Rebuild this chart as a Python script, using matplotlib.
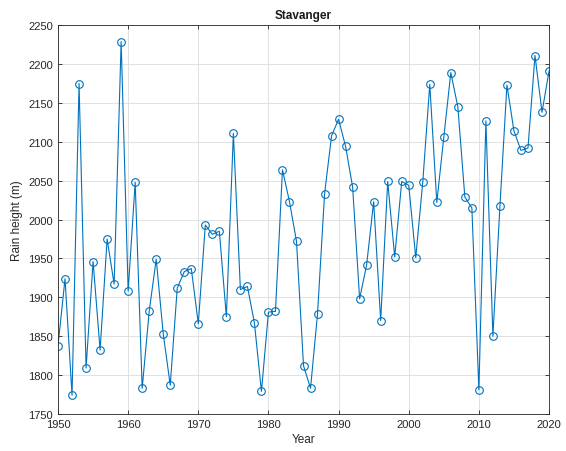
import matplotlib
matplotlib.use('Agg')
import matplotlib.pyplot as plt

plt.rcParams['font.family'] = ['Liberation Sans', 'DejaVu Sans']

years = list(range(1950, 2021))
rain = [1838, 1924, 1774, 2175, 1809, 1946, 1832, 1975, 1917, 2229,
        1908, 2048, 1783, 1882, 1949, 1853, 1787, 1912, 1933, 1937,
        1866, 1993, 1981, 1985, 1875, 2111, 1910, 1914, 1867, 1779,
        1881, 1882, 2064, 2023, 1972, 1812, 1783, 1879, 2033, 2108,
        2129, 2094, 2042, 1898, 1942, 2023, 1870, 2049, 1952, 2049,
        2044, 1951, 2048, 2174, 2022, 2106, 2189, 2145, 2029, 2015,
        1781, 2127, 1850, 2017, 2173, 2114, 2089, 2092, 2211, 2138,
        2191]

fig = plt.figure(figsize=(5.66, 4.52), dpi=100)
ax = fig.add_axes([0.1025, 0.082, 0.8675, 0.860])

ax.plot(years, rain, color='#0072BD', lw=0.8, marker='o', ms=5.5,
        mfc='none', mec='#0072BD', mew=0.8)

ax.set_xlim(1950, 2020)
ax.set_ylim(1750, 2250)
ax.set_xticks(range(1950, 2021, 10))
ax.set_yticks(range(1750, 2251, 50))
ax.grid(True, color='#dcdcdc', lw=0.6)
ax.set_axisbelow(True)
ax.tick_params(direction='in', length=3, width=0.6, colors='#262626',
               labelsize=8, top=True, right=True, labeltop=False, labelright=False)
for s in ax.spines.values():
    s.set_color('#262626')
    s.set_linewidth(0.6)

ax.set_title('Stavanger', fontsize=8.5, fontweight='bold', color='#1a1a1a', pad=5)
ax.set_xlabel('Year', fontsize=8.5, color='#262626', labelpad=3)
ax.set_ylabel('Rain height (m)', fontsize=8.5, color='#262626', labelpad=4)

fig.savefig('out.png', dpi=100)
